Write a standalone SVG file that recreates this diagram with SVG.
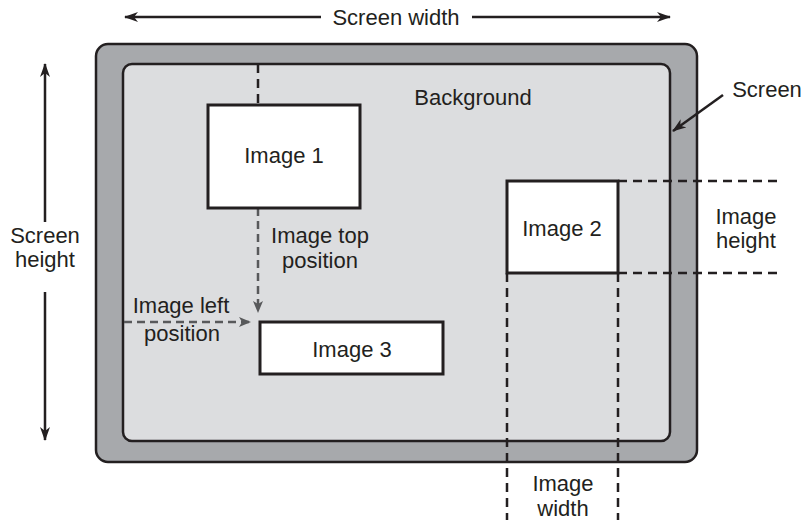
<svg xmlns="http://www.w3.org/2000/svg" width="805" height="523" viewBox="0 0 805 523">
<defs>
<style>
text{font-family:"Liberation Sans",Arial,sans-serif;font-size:22px;fill:#231f20;text-anchor:middle}
.box{fill:#fff;stroke:#231f20;stroke-width:3}
.dash{fill:none;stroke:#231f20;stroke-width:2.5;stroke-dasharray:9 6}
.gdash{fill:none;stroke:#58595b;stroke-width:2.5;stroke-dasharray:8 5}
.solid{fill:none;stroke:#231f20;stroke-width:2.5}
</style>
<marker id="ah" viewBox="0 0 14 10" refX="13" refY="5" markerWidth="14" markerHeight="10" markerUnits="userSpaceOnUse" orient="auto-start-reverse">
<path d="M0,0 L14,5 L0,10 L4,5 z" fill="#231f20"/>
</marker>
<marker id="gh" viewBox="0 0 12 10" refX="11" refY="5" markerWidth="12" markerHeight="10" markerUnits="userSpaceOnUse" orient="auto">
<path d="M0,0 L12,5 L0,10 L3,5 z" fill="#58595b"/>
</marker>
</defs>
<g id="screen">
<rect x="96" y="44" width="601" height="418" rx="12" fill="#a7a9ac" stroke="#231f20" stroke-width="2.5"/>
<rect x="123" y="64" width="547" height="377" rx="9" fill="#dcdddf" stroke="#231f20" stroke-width="2.5"/>
<text x="473" y="105">Background</text>
</g>
<g id="connectors">
<path class="solid" d="M125,17 H321 M472,17 H670" marker-start="url(#ah)" marker-end="url(#ah)"/>
<path class="solid" d="M45,64 V222 M45,292 V440" marker-start="url(#ah)" marker-end="url(#ah)"/>
<path class="solid" d="M723,95 L673,131" marker-end="url(#ah)"/>
<path class="dash" d="M258,64 V105"/>
<path class="gdash" d="M258,208 V312" marker-end="url(#gh)"/>
<path class="gdash" d="M124,322 H250" marker-end="url(#gh)"/>
<path class="dash" d="M618,181 H777 M618,273 H777"/>
<path class="dash" d="M507,273 V520 M618,273 V520"/>
</g>
<g id="labels">
<text x="396" y="25">Screen width</text>
<text x="45" y="243">Screen</text>
<text x="45" y="267">height</text>
<text x="767" y="97">Screen</text>
<text x="320" y="243">Image top</text>
<text x="320" y="268">position</text>
<text x="181" y="313">Image left</text>
<text x="182" y="341">position</text>
<text x="746" y="224">Image</text>
<text x="746" y="248">height</text>
<text x="563" y="491">Image</text>
<text x="563" y="516">width</text>
</g>
<g id="image1">
<rect class="box" x="208" y="105" width="152" height="103"/>
<text x="284" y="163">Image 1</text>
</g>
<g id="image2">
<rect class="box" x="507" y="181" width="111" height="92"/>
<text x="562" y="236">Image 2</text>
</g>
<g id="image3">
<rect class="box" x="260" y="322" width="183" height="52"/>
<text x="352" y="357">Image 3</text>
</g>
</svg>
